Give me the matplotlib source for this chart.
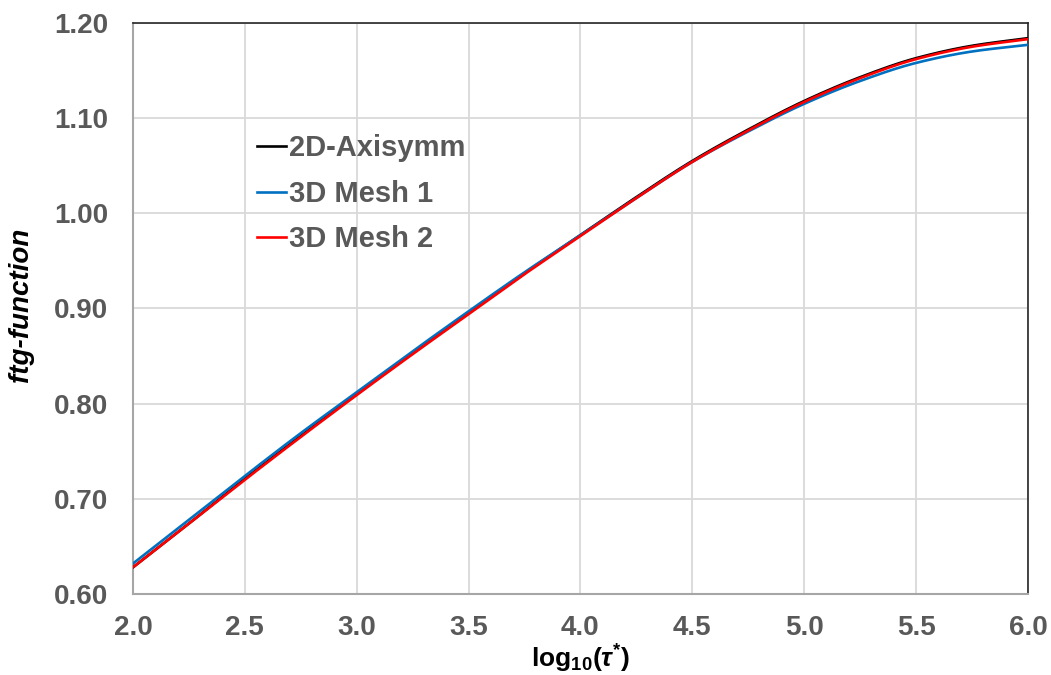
import matplotlib
matplotlib.use("Agg")
import matplotlib.pyplot as plt
import numpy as np

x = [2.0, 2.25, 2.5, 2.75, 3.0, 3.25, 3.5, 3.75, 4.0, 4.25, 4.5, 4.75, 5.0, 5.25, 5.5, 5.75, 6.0]
axisymm = [0.628, 0.674, 0.721, 0.766, 0.810, 0.853, 0.895, 0.937, 0.977, 1.017, 1.055, 1.088, 1.118, 1.143, 1.163, 1.176, 1.184]
mesh1 = [0.632, 0.678, 0.724, 0.769, 0.812, 0.855, 0.897, 0.938, 0.977, 1.016, 1.054, 1.086, 1.115, 1.139, 1.158, 1.170, 1.177]
mesh2 = [0.628, 0.674, 0.720, 0.765, 0.809, 0.852, 0.894, 0.936, 0.976, 1.016, 1.054, 1.087, 1.117, 1.142, 1.162, 1.175, 1.183]

xticks = [2.0, 2.5, 3.0, 3.5, 4.0, 4.5, 5.0, 5.5, 6.0]
yticks = [0.60, 0.70, 0.80, 0.90, 1.00, 1.10, 1.20]

plt.rcParams['font.family'] = ['Liberation Sans', 'DejaVu Sans']
plt.rcParams['mathtext.fontset'] = 'custom'
plt.rcParams['mathtext.rm'] = 'Liberation Sans:bold'
plt.rcParams['mathtext.it'] = 'Liberation Sans:bold:italic'
plt.rcParams['mathtext.bf'] = 'Liberation Sans:bold'

fig = plt.figure(figsize=(10.51, 6.75), dpi=100)
ax = fig.add_axes([0.1265, 0.12, 0.8515, 0.846])

# smooth the drawn curves through the read values with a monotone cubic (PCHIP)
def pchip(xs, ys, xn):
    xs = np.asarray(xs, float); ys = np.asarray(ys, float)
    h = np.diff(xs); d = np.diff(ys) / h
    m = np.zeros_like(ys)
    for k in range(1, len(xs) - 1):
        if d[k-1] * d[k] > 0:
            w1 = 2 * h[k] + h[k-1]; w2 = h[k] + 2 * h[k-1]
            m[k] = (w1 + w2) / (w1 / d[k-1] + w2 / d[k])
    m[0] = d[0]; m[-1] = d[-1]
    idx = np.clip(np.searchsorted(xs, xn) - 1, 0, len(xs) - 2)
    t = (xn - xs[idx]) / h[idx]
    h00 = 2*t**3 - 3*t**2 + 1; h10 = t**3 - 2*t**2 + t
    h01 = -2*t**3 + 3*t**2; h11 = t**3 - t**2
    return h00*ys[idx] + h10*h[idx]*m[idx] + h01*ys[idx+1] + h11*h[idx]*m[idx+1]

xf = np.linspace(x[0], x[-1], 400)
ax.plot(xf, pchip(x, axisymm, xf), color='black', lw=1.9, label='2D-Axisymm', zorder=3)
ax.plot(xf, pchip(x, mesh1, xf), color='#0070C0', lw=1.9, label='3D Mesh 1', zorder=4)
ax.plot(xf, pchip(x, mesh2, xf), color='#FF0000', lw=1.9, label='3D Mesh 2', zorder=5)

ax.set_xlim(2.0, 6.0)
ax.set_ylim(0.60, 1.20)
ax.set_xticks(xticks)
ax.set_yticks(yticks)
ax.set_xticklabels([f"{v:.1f}" for v in xticks])
ax.set_yticklabels([f"{v:.2f}" for v in yticks])
ax.tick_params(axis='x', length=0, labelsize=20, labelcolor='#595959', pad=15)
ax.tick_params(axis='y', length=0, labelsize=20, labelcolor='#595959', pad=18)
for lab in ax.get_xticklabels() + ax.get_yticklabels():
    lab.set_fontweight('bold')

ax.grid(True, color='#d9d9d9', lw=1.3)
ax.set_axisbelow(True)
for s in ['left', 'bottom']:
    ax.spines[s].set_color('#a6a6a6')
    ax.spines[s].set_linewidth(1.5)
for s in ['top', 'right']:
    ax.spines[s].set_color('#262626')
    ax.spines[s].set_linewidth(1.2)

ax.set_xlabel(r'log$_{10}$($\tau^{*}$)', fontsize=19, fontweight='bold')
ax.xaxis.label.set_va('center')
ax.xaxis.set_label_coords(0.5, -0.113)
ax.set_ylabel('ftg-function', fontsize=20, fontweight='bold', style='italic')
ax.yaxis.label.set_va('center')
ax.yaxis.set_label_coords(-0.125, 0.506)

leg = ax.legend(loc='upper left', bbox_to_anchor=(0.109, 0.851), frameon=False,
                fontsize=21, handlelength=1.0, handletextpad=0.12, labelspacing=0.6)
for t in leg.get_texts():
    t.set_color('#595959')
    t.set_fontweight('bold')

fig.savefig('out.png', dpi=100)
